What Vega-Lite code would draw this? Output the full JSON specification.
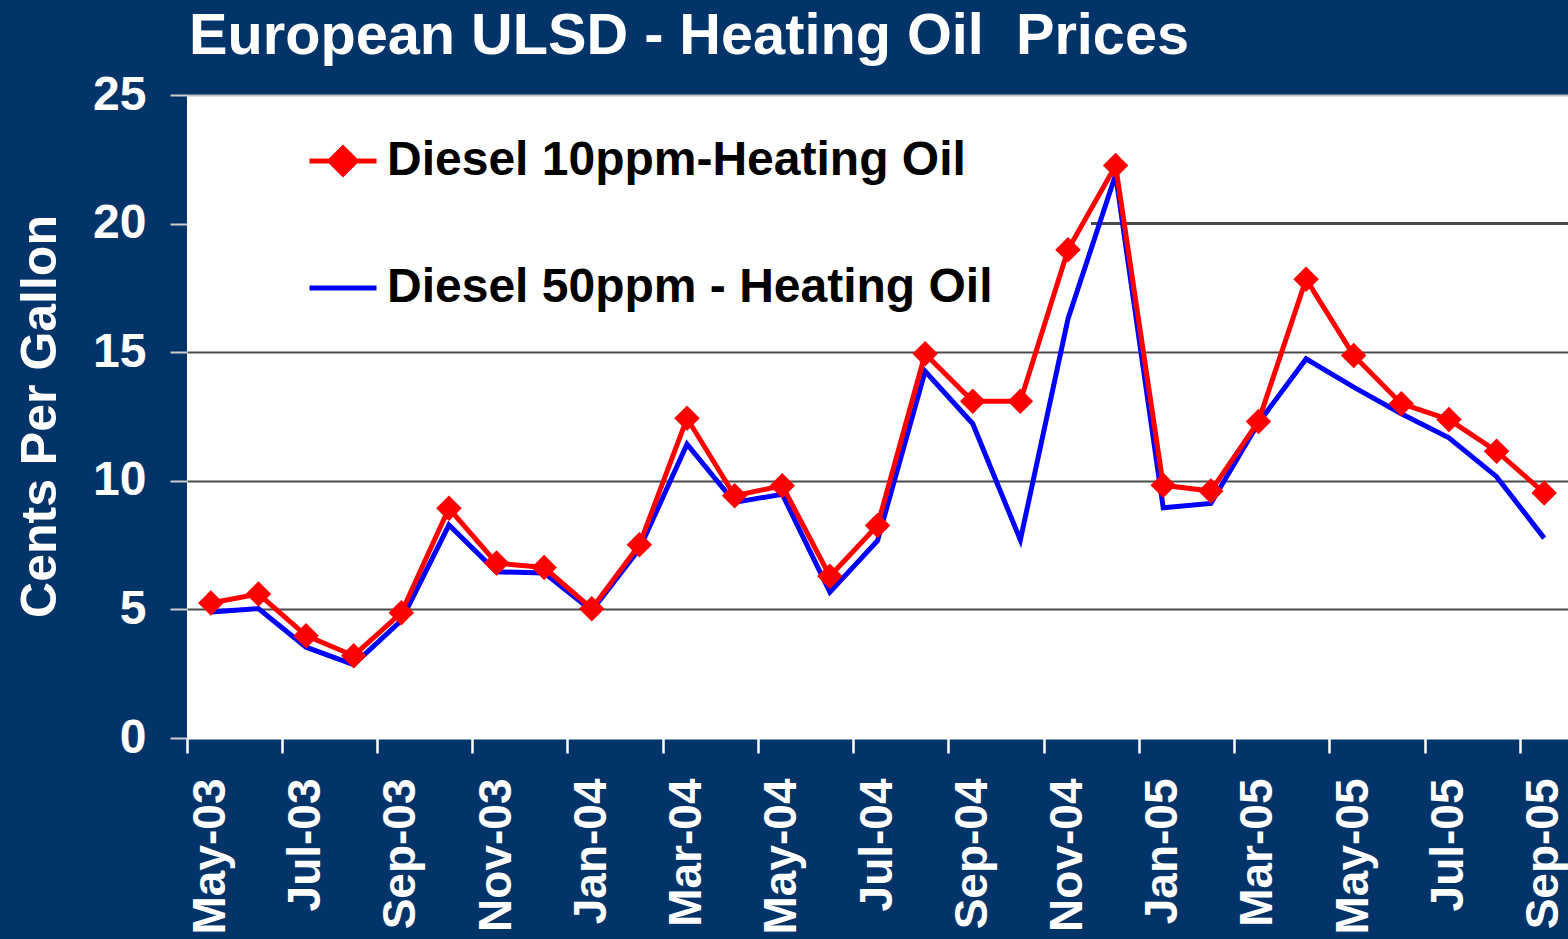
{
  "$schema": "https://vega.github.io/schema/vega-lite/v6.json",
  "width": 1381,
  "height": 643,
  "autosize": {"type": "none"},
  "padding": {"left": 187, "top": 95, "right": 0, "bottom": 201},
  "background": "#02346a",
  "title": {
    "text": "European ULSD - Heating Oil\u00a0 Prices",
    "anchor": "start",
    "frame": "group",
    "font": "Liberation Sans",
    "fontWeight": "bold",
    "fontSize": 57.7,
    "color": "white",
    "baseline": "alphabetic",
    "offset": -41,
    "dx": 2
  },
  "config": {
    "view": {"fill": "white", "stroke": null},
    "font": "Liberation Sans"
  },
  "data": {
    "values": [
      {"month": "May-03", "series": "Diesel 50ppm - Heating Oil", "value": 4.9},
      {"month": "Jun-03", "series": "Diesel 50ppm - Heating Oil", "value": 5.03},
      {"month": "Jul-03", "series": "Diesel 50ppm - Heating Oil", "value": 3.53},
      {"month": "Aug-03", "series": "Diesel 50ppm - Heating Oil", "value": 2.85},
      {"month": "Sep-03", "series": "Diesel 50ppm - Heating Oil", "value": 4.57},
      {"month": "Oct-03", "series": "Diesel 50ppm - Heating Oil", "value": 8.28},
      {"month": "Nov-03", "series": "Diesel 50ppm - Heating Oil", "value": 6.46},
      {"month": "Dec-03", "series": "Diesel 50ppm - Heating Oil", "value": 6.42},
      {"month": "Jan-04", "series": "Diesel 50ppm - Heating Oil", "value": 4.95},
      {"month": "Feb-04", "series": "Diesel 50ppm - Heating Oil", "value": 7.35},
      {"month": "Mar-04", "series": "Diesel 50ppm - Heating Oil", "value": 11.42},
      {"month": "Apr-04", "series": "Diesel 50ppm - Heating Oil", "value": 9.16},
      {"month": "May-04", "series": "Diesel 50ppm - Heating Oil", "value": 9.48},
      {"month": "Jun-04", "series": "Diesel 50ppm - Heating Oil", "value": 5.67},
      {"month": "Jul-04", "series": "Diesel 50ppm - Heating Oil", "value": 7.67},
      {"month": "Aug-04", "series": "Diesel 50ppm - Heating Oil", "value": 14.26},
      {"month": "Sep-04", "series": "Diesel 50ppm - Heating Oil", "value": 12.22},
      {"month": "Oct-04", "series": "Diesel 50ppm - Heating Oil", "value": 7.7},
      {"month": "Nov-04", "series": "Diesel 50ppm - Heating Oil", "value": 16.29},
      {"month": "Dec-04", "series": "Diesel 50ppm - Heating Oil", "value": 21.9},
      {"month": "Jan-05", "series": "Diesel 50ppm - Heating Oil", "value": 8.95},
      {"month": "Feb-05", "series": "Diesel 50ppm - Heating Oil", "value": 9.12},
      {"month": "Mar-05", "series": "Diesel 50ppm - Heating Oil", "value": 12.25},
      {"month": "Apr-05", "series": "Diesel 50ppm - Heating Oil", "value": 14.74},
      {"month": "May-05", "series": "Diesel 50ppm - Heating Oil", "value": 13.64},
      {"month": "Jun-05", "series": "Diesel 50ppm - Heating Oil", "value": 12.61},
      {"month": "Jul-05", "series": "Diesel 50ppm - Heating Oil", "value": 11.67},
      {"month": "Aug-05", "series": "Diesel 50ppm - Heating Oil", "value": 10.16},
      {"month": "Sep-05", "series": "Diesel 50ppm - Heating Oil", "value": 7.77},
      {"month": "May-03", "series": "Diesel 10ppm-Heating Oil", "value": 5.25},
      {"month": "Jun-03", "series": "Diesel 10ppm-Heating Oil", "value": 5.6},
      {"month": "Jul-03", "series": "Diesel 10ppm-Heating Oil", "value": 3.98},
      {"month": "Aug-03", "series": "Diesel 10ppm-Heating Oil", "value": 3.2},
      {"month": "Sep-03", "series": "Diesel 10ppm-Heating Oil", "value": 4.87},
      {"month": "Oct-03", "series": "Diesel 10ppm-Heating Oil", "value": 8.93},
      {"month": "Nov-03", "series": "Diesel 10ppm-Heating Oil", "value": 6.8},
      {"month": "Dec-03", "series": "Diesel 10ppm-Heating Oil", "value": 6.63},
      {"month": "Jan-04", "series": "Diesel 10ppm-Heating Oil", "value": 5.03},
      {"month": "Feb-04", "series": "Diesel 10ppm-Heating Oil", "value": 7.51},
      {"month": "Mar-04", "series": "Diesel 10ppm-Heating Oil", "value": 12.43},
      {"month": "Apr-04", "series": "Diesel 10ppm-Heating Oil", "value": 9.42},
      {"month": "May-04", "series": "Diesel 10ppm-Heating Oil", "value": 9.81},
      {"month": "Jun-04", "series": "Diesel 10ppm-Heating Oil", "value": 6.29},
      {"month": "Jul-04", "series": "Diesel 10ppm-Heating Oil", "value": 8.26},
      {"month": "Aug-04", "series": "Diesel 10ppm-Heating Oil", "value": 14.94},
      {"month": "Sep-04", "series": "Diesel 10ppm-Heating Oil", "value": 13.09},
      {"month": "Oct-04", "series": "Diesel 10ppm-Heating Oil", "value": 13.09},
      {"month": "Nov-04", "series": "Diesel 10ppm-Heating Oil", "value": 18.98},
      {"month": "Dec-04", "series": "Diesel 10ppm-Heating Oil", "value": 22.26},
      {"month": "Jan-05", "series": "Diesel 10ppm-Heating Oil", "value": 9.83},
      {"month": "Feb-05", "series": "Diesel 10ppm-Heating Oil", "value": 9.6},
      {"month": "Mar-05", "series": "Diesel 10ppm-Heating Oil", "value": 12.31},
      {"month": "Apr-05", "series": "Diesel 10ppm-Heating Oil", "value": 17.84},
      {"month": "May-05", "series": "Diesel 10ppm-Heating Oil", "value": 14.87},
      {"month": "Jun-05", "series": "Diesel 10ppm-Heating Oil", "value": 13.0},
      {"month": "Jul-05", "series": "Diesel 10ppm-Heating Oil", "value": 12.38},
      {"month": "Aug-05", "series": "Diesel 10ppm-Heating Oil", "value": 11.15},
      {"month": "Sep-05", "series": "Diesel 10ppm-Heating Oil", "value": 9.53}
    ]
  },
  "encoding": {
    "x": {
      "field": "month",
      "type": "ordinal",
      "sort": null,
      "bandPosition": 0.5,
      "scale": {
        "type": "band",
        "paddingInner": 0,
        "paddingOuter": 0,
        "domain": ["May-03", "Jun-03", "Jul-03", "Aug-03", "Sep-03", "Oct-03", "Nov-03", "Dec-03", "Jan-04", "Feb-04", "Mar-04", "Apr-04", "May-04", "Jun-04", "Jul-04", "Aug-04", "Sep-04", "Oct-04", "Nov-04", "Dec-04", "Jan-05", "Feb-05", "Mar-05", "Apr-05", "May-05", "Jun-05", "Jul-05", "Aug-05", "Sep-05"]
      },
      "axis": {
        "title": null,
        "values": ["May-03", "Jul-03", "Sep-03", "Nov-03", "Jan-04", "Mar-04", "May-04", "Jul-04", "Sep-04", "Nov-04", "Jan-05", "Mar-05", "May-05", "Jul-05", "Sep-05"],
        "bandPosition": 0,
        "labelOffset": 0,
        "labelAngle": -90,
        "labelAlign": "right",
        "labelBaseline": "middle",
        "labelFont": "Liberation Sans",
        "labelFontWeight": "bold",
        "labelFontSize": 46,
        "labelColor": "white",
        "labelPadding": 25,
        "labelOverlap": false,
        "labelBound": false,
        "labelFlush": false,
        "tickSize": 15,
        "tickWidth": 2.5,
        "tickColor": "white",
        "domainColor": "white",
        "domainWidth": 2,
        "grid": false
      }
    },
    "y": {
      "field": "value",
      "type": "quantitative",
      "scale": {"domain": [0, 25], "nice": false, "zero": true},
      "axis": {
        "title": "Cents Per Gallon",
        "titleFont": "Liberation Sans",
        "titleFontWeight": "bold",
        "titleFontSize": 50,
        "titleColor": "white",
        "titleAngle": -90,
        "titleBaseline": "alphabetic",
        "titleAlign": "center",
        "titleX": -132,
        "titleY": 321,
        "values": [0, 5, 10, 15, 20, 25],
        "labelFont": "Liberation Sans",
        "labelFontWeight": "bold",
        "labelFontSize": 48,
        "labelColor": "white",
        "labelPadding": 24,
        "labelBaseline": "middle",
        "labelFlush": false,
        "labelBound": false,
        "tickSize": 17,
        "tickWidth": 2,
        "tickColor": "#cccccc",
        "domain": false,
        "grid": true,
        "gridWidth": 2,
        "gridColor": {
          "condition": [
            {"test": "datum.value === 25", "value": "#c0c0c0"},
            {"test": "datum.value === 20 || datum.value === 0", "value": "transparent"}
          ],
          "value": "#4a4a4a"
        }
      }
    }
  },
  "layer": [
    {
      "mark": {"type": "rule", "color": "#4a4a4a", "strokeWidth": 2},
      "encoding": {
        "x": {"datum": "Dec-04", "bandPosition": 0},
        "x2": {"value": "width"},
        "y": {"datum": 20},
        "color": null
      }
    },
    {
      "mark": {"type": "line", "strokeWidth": 5, "strokeJoin": "miter"},
      "encoding": {
        "color": {
          "field": "series",
          "type": "nominal",
          "scale": {
            "domain": ["Diesel 10ppm-Heating Oil", "Diesel 50ppm - Heating Oil"],
            "range": ["#ff0000", "#0000ff"]
          },
          "legend": {
            "title": null,
            "orient": "none",
            "legendX": 100,
            "legendY": 10,
            "padding": 20,
            "fillColor": "white",
            "strokeColor": null,
            "symbolSize": 4489,
            "symbolStrokeWidth": 5,
            "rowPadding": 67,
            "labelFont": "Liberation Sans",
            "labelFontWeight": "bold",
            "labelFontSize": 48,
            "labelColor": "black",
            "labelOffset": 8,
            "labelLimit": 1000,
            "encode": {
              "symbols": {
                "update": {
                  "shape": {"signal": "datum.value === 'Diesel 10ppm-Heating Oil' ? 'M-1,0L1,0M0,-0.39L0.39,0L0,0.39L-0.39,0Z' : 'M-1,0L1,0'"},
                  "fill": {"signal": "datum.value === 'Diesel 10ppm-Heating Oil' ? '#ff0000' : '#0000ff'"},
                  "stroke": {"signal": "datum.value === 'Diesel 10ppm-Heating Oil' ? '#ff0000' : '#0000ff'"},
                  "strokeWidth": {"value": 5},
                  "opacity": {"value": 1}
                }
              }
            }
          }
        }
      }
    },
    {
      "transform": [{"filter": "datum.series === 'Diesel 10ppm-Heating Oil'"}],
      "mark": {"type": "point", "shape": "diamond", "filled": true, "size": 650, "color": "#ff0000", "opacity": 1}
    }
  ]
}
